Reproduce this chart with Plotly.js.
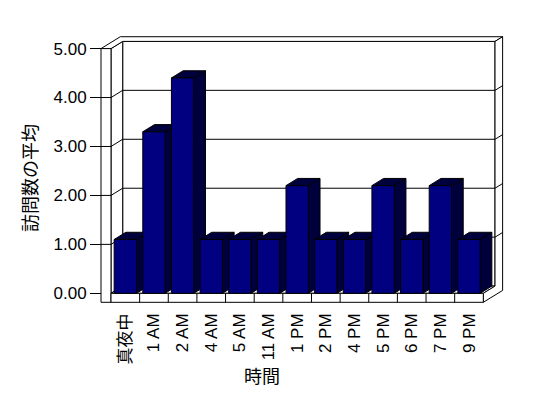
<!DOCTYPE html>
<html><head><meta charset="utf-8">
<script src="https://cdn.plot.ly/plotly-3.0.1.min.js"></script>
<style>html,body{margin:0;padding:0;background:#fff;}#chart{width:548px;height:398px;}</style>
</head><body><div id="chart"></div>
<script>
// ---- data ----
const categories = ['真夜中','1 AM','2 AM','4 AM','5 AM','11 AM','1 PM','2 PM','4 PM','5 PM','6 PM','7 PM','9 PM'];
const visitAverages = [1.1, 3.3, 4.4, 1.1, 1.1, 1.1, 2.2, 1.1, 1.1, 2.2, 1.1, 2.2, 1.1];
const yTickValues = [0, 1, 2, 3, 4, 5];
const yTickLabels = ['0.00', '1.00', '2.00', '3.00', '4.00', '5.00'];
const xAxisTitle = '時間';
const yAxisTitle = '訪問数の平均';

// ---- 3-D look (geometry / style) ----
const N = categories.length;
const YMAX = yTickValues[yTickValues.length - 1];
const DXd = 0.4085, DYd = 0.1471;   // depth direction, in axis units per unit of depth
const WALL = 0.349, FLOOR = 0.184, ZB = 1, ZO = 1.65;
const BAR_L = 0.11, BAR_R = 0.89, BAR_Z = 1.0;
const FRONT = '#000080', SHADE = '#00003c';

function P(x, y, z) { return [x + z * DXd, y + z * DYd]; }
function poly(points, fill) {
  const xs = [], ys = [];
  points.forEach(p => { const q = P(p[0], p[1], p[2]); xs.push(q[0]); ys.push(q[1]); });
  xs.push(xs[0]); ys.push(ys[0]);
  return {type: 'scatter', mode: 'lines', x: xs, y: ys, fill: 'toself', fillcolor: fill,
          line: {color: '#000', width: 1}, hoverinfo: 'skip', showlegend: false};
}
function lines(segs) {
  const xs = [], ys = [];
  segs.forEach(seg => {
    seg.forEach(p => { const q = P(p[0], p[1], p[2]); xs.push(q[0]); ys.push(q[1]); });
    xs.push(null); ys.push(null);
  });
  return {type: 'scatter', mode: 'lines', x: xs, y: ys, line: {color: '#000', width: 1},
          hoverinfo: 'skip', showlegend: false, connectgaps: false};
}

const traces = [];
// walls and floor
traces.push(poly([[0,0,ZB],[N,0,ZB],[N,YMAX,ZB],[0,YMAX,ZB]], '#fff'));
traces.push(poly([[0,0,0],[0,YMAX,0],[0,YMAX,ZB],[0,0,ZB]], '#fff'));
traces.push(poly([[0,0,0],[N,0,0],[N,0,ZB],[0,0,ZB]], '#fff'));
traces.push(poly([[-WALL,YMAX,0],[0,YMAX,0],[0,YMAX,ZB],[N,YMAX,ZB],[N,YMAX,ZO],[-WALL,YMAX,ZO]], '#fff'));
traces.push(poly([[N,-FLOOR,0],[N,0,0],[N,0,ZB],[N,YMAX,ZB],[N,YMAX,ZO],[N,-FLOOR,ZO]], '#fff'));
traces.push(poly([[-WALL,-FLOOR,0],[0,-FLOOR,0],[0,YMAX,0],[-WALL,YMAX,0]], '#fff'));
traces.push(poly([[0,-FLOOR,0],[N,-FLOOR,0],[N,0,0],[0,0,0]], '#fff'));
// category separators on floor front
const seps = [];
for (let i = 1; i < N; i++) seps.push([[i,-FLOOR,0],[i,0,0]]);
traces.push(lines(seps));
// gridlines
const grid = [];
yTickValues.forEach(v => {
  if (v > 0 && v < YMAX) grid.push([[-WALL,v,0],[0,v,0],[0,v,ZB],[N,v,ZB],[N,v,ZO]]);
});
traces.push(lines(grid));
// bars
visitAverages.forEach((v, i) => {
  const xl = i + BAR_L, xr = i + BAR_R;
  traces.push(poly([[xr,0,0],[xr,v,0],[xr,v,BAR_Z],[xr,0,BAR_Z]], SHADE));
  traces.push(poly([[xl,v,0],[xr,v,0],[xr,v,BAR_Z],[xl,v,BAR_Z]], SHADE));
  traces.push(poly([[xl,0,0],[xr,0,0],[xr,v,0],[xl,v,0]], FRONT));
});

const W = 548, H = 398, ml = 10, mr = 34, mt = 10, mb = 52;
const pw = W - ml - mr, ph = H - mt - mb;
// pixel mapping of the front plane
const X0 = 111, SX = 28.64, Y0 = 293.3, SY = 48.94;
const xr0 = (ml - X0) / SX, xr1 = (W - mr - X0) / SX;
const yr1 = (Y0 - mt) / SY, yr0 = (Y0 - (H - mb)) / SY;
const txtFont = '"Liberation Sans", Arial, sans-serif';
const cjkFont = '"Noto Sans CJK JP", "Liberation Sans", sans-serif';
// CJK labels get the CJK font explicitly
const catTickText = categories.map(c => /[^\x00-\x7F]/.test(c)
  ? '<span style="font-family:\'Noto Sans CJK JP\'">' + c + '</span>' : c);

const layout = {
  width: W, height: H, margin: {l: ml, r: mr, t: mt, b: mb},
  paper_bgcolor: '#fff', plot_bgcolor: '#fff', showlegend: false,
  font: {family: txtFont, size: 17, color: '#000'},
  xaxis: {range: [xr0, xr1], showgrid: false, zeroline: false, showline: false, fixedrange: true,
    tickmode: 'array', tickvals: categories.map((c, i) => i + 0.5), ticktext: catTickText,
    tickangle: -90, ticks: '', anchor: 'free', position: (H - mb - 309) / ph,
    tickfont: {family: txtFont, size: 17, color: '#000000'},
    title: {text: xAxisTitle, font: {family: cjkFont, size: 18, color: '#000'}, standoff: 6}},
  yaxis: {range: [yr0, yr1], showgrid: false, zeroline: false, showline: false, fixedrange: true,
    tickmode: 'array', tickvals: yTickValues, ticktext: yTickLabels,
    ticks: 'outside', ticklen: 11, tickwidth: 1, tickcolor: '#000',
    anchor: 'free', position: (101 - ml) / pw,
    tickfont: {family: txtFont, size: 17, color: '#000000'},
    title: {text: yAxisTitle, font: {family: cjkFont, size: 18, color: '#000'}, standoff: 10}}
};
Plotly.newPlot('chart', traces, layout, {staticPlot: true, displayModeBar: false});
</script></body></html>
